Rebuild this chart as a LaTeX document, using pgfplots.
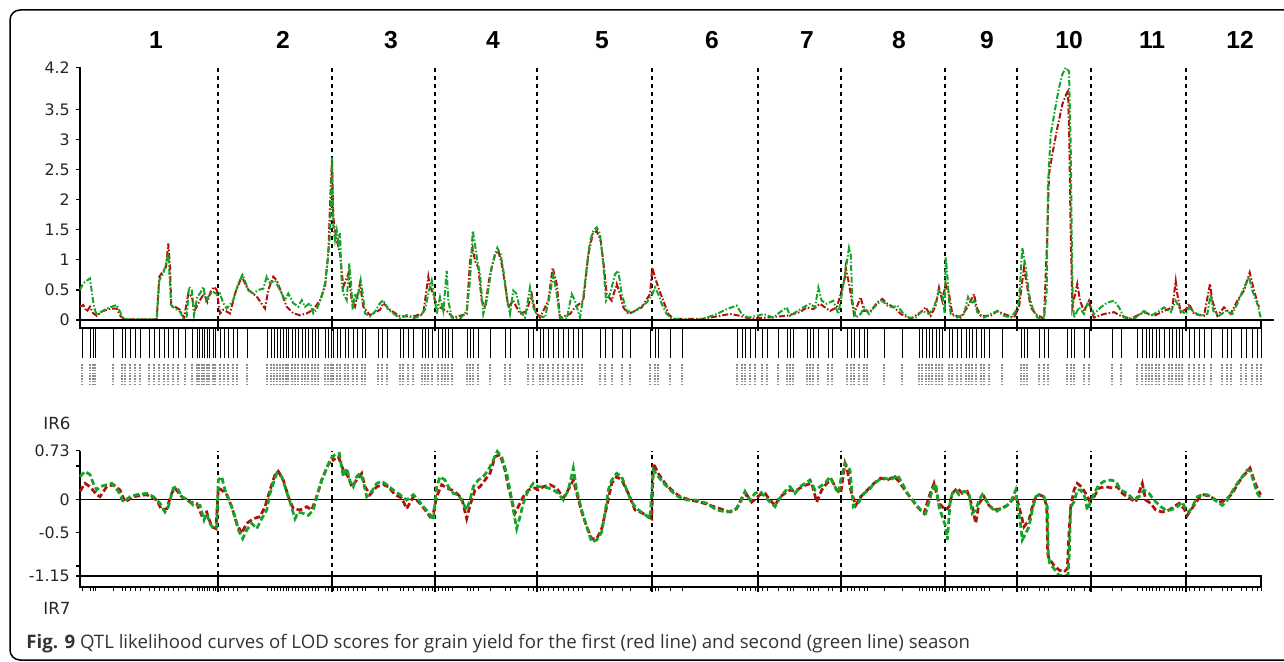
\documentclass[border=0pt]{standalone}
\usepackage{pgfplots}
\pgfplotsset{compat=1.18}
\usepackage{fontspec}
\setmainfont{Liberation Sans}
\newfontfamily\tickfont{DejaVu Sans}
\newfontfamily\capfont{Open Sans}
\definecolor{qred}{RGB}{175,20,10}
\definecolor{qgreen}{RGB}{20,165,40}
\pgfplotsset{
 base/.style={x=0.2mm, anchor=south west, xmin=80, xmax=1274, enlargelimits=false, clip=false},
 strip/.style={base, hide axis, ymin=0, ymax=1},
 panel/.style={base, axis x line=none, axis y line*=left, y axis line style={-, line width=0.25mm},
   xtick=\empty, tick align=outside, major tick length=0.8mm, tick style={black, line width=0.25mm},
   yticklabel style={font=\tickfont\fontsize{9}{10}\selectfont, text=black!85}},
 topline/.style={line width=0.4mm, dash pattern=on 1.2mm off 0.4mm on 0.3mm off 0.4mm},
 botline/.style={line width=0.55mm, dash pattern=on 1.2mm off 0.6mm},
 bound/.style={ycomb, black, line width=0.3mm, dash pattern=on 0.8mm off 0.8mm},
}
\begin{document}
\begin{tikzpicture}[x=0.2mm,y=-0.2mm]
\useasboundingbox (0,0) rectangle (1284,662);
\draw[line width=0.3mm, rounded corners=2mm] (10,10) rectangle (1300,660);

% ---------------- top panel: LOD ----------------
\begin{axis}[panel, y=12.04mm, at={(16mm,-64mm)}, ymin=0, ymax=4.2,
  ytick={0,0.5,1,1.5,2,2.5,3,3.5,4.2}, yticklabels={0,0.5,1,1.5,2,2.5,3,3.5,4.2}]
\addplot[bound] coordinates {(218,4.25)(332,4.25)(435,4.25)(537,4.25)(652,4.25)(758,4.25)(841,4.25)(945,4.25)(1017,4.25)(1091,4.25)(1186,4.25)};
\addplot[qred, topline] coordinates {
(80,0.22)(83.3,0.25)(86.7,0.14)(90,0.22)(93.3,0.11)(96.7,0.07)(101.7,0.14)(106.7,0.17)(111.7,0.19)(116.7,0.19)(120.7,0.06)(125,0.01)(156.7,0.01)(159.3,0.72)(162.7,0.80)(166,0.88)(168.3,1.27)(170,0.88)(171.3,0.22)(175,0.22)(180,0.17)(184,0.03)(188.3,0.44)(191.7,0.39)(195,0.17)(200,0.33)(204,0.44)(207.3,0.30)(210.7,0.47)(214,0.55)(216.7,0.50)
(220,0.11)(223.3,0.17)(230,0.11)(235,0.44)(241.7,0.72)(248.3,0.50)(256.7,0.39)(265,0.19)(268.3,0.50)(273.3,0.72)(276.7,0.66)(281.7,0.44)(286.7,0.22)(293.3,0.11)(300,0.08)(306.7,0.11)(313.3,0.17)(320,0.33)(325,0.55)(328.3,1.10)(330.7,2.21)(332,2.65)
(333.3,1.71)(335,1.49)(336.7,1.33)(340,1.10)(343.3,0.55)(348.3,0.77)(351.7,0.33)(355,0.22)(360,0.61)(363.3,0.22)(370,0.08)(380,0.17)(383.3,0.28)(390,0.17)(400,0.06)(413.3,0.06)(423.3,0.11)(428.3,0.72)(430,0.55)(433.3,0.44)
(435,0.32)(440,0.21)(446.7,0.15)(453.3,0.04)(466.7,0.10)(470,0.98)(472.7,1.20)(475,0.98)(478.3,0.87)(481.7,0.32)(485,0.21)(490,0.76)(495,1.09)(498.3,1.15)(501.7,0.93)(505,0.60)(508.3,0.21)(513.3,0.32)(520,0.10)(526.7,0.15)(531.7,0.43)(535,0.15)
(540,0.04)(548.3,0.32)(552.7,0.87)(556.7,0.60)(560,0.04)(570,0.10)(575,0.21)(583.3,0.32)(588.3,1.09)(592.7,1.43)(596.7,1.48)(600.7,1.31)(604,0.87)(606.7,0.43)(611.7,0.32)(616.7,0.60)(620,0.43)(623.3,0.21)(628.3,0.10)(635,0.15)(641.7,0.21)(650,0.43)(652.3,0.87)
(655,0.71)(658.3,0.54)(663.3,0.32)(668.3,0.10)(673.3,0.02)(703.3,0.02)(720,0.07)(730,0.10)(740,0.07)(750,0.02)
(766.7,0.04)(786.7,0.07)(800,0.13)(806.7,0.21)(813.3,0.18)(820,0.27)(830,0.15)(836.7,0.21)(840.7,0.43)(845,0.71)
(845.7,0.87)(849,0.60)(854,0.10)(860.7,0.38)(864,0.15)(870.7,0.15)(877.3,0.29)(882.3,0.35)(887.3,0.27)(894,0.21)(900.7,0.10)(910.7,0.02)(920.7,0.13)(925.7,0.21)(930.7,0.07)(935.7,0.24)(939,0.54)(942.3,0.32)
(945.7,0.60)(949,0.43)(952.3,0.10)(960.7,0.04)(967.3,0.21)(974,0.43)(976.7,0.21)(980.7,0.07)(990.7,0.07)(997.3,0.15)(1004,0.10)(1014,0.04)
(1019,0.21)(1024,0.87)(1026.7,0.60)(1030.7,0.21)(1035.7,0.10)(1044,0.02)(1047.3,1.43)(1049,2.42)(1052.3,2.75)(1057.3,3.19)(1062.3,3.58)(1066.7,3.77)(1068,3.80)(1069.3,2.97)(1070.7,1.43)(1072.3,0.21)(1077.3,0.60)(1080,0.32)(1084,0.15)(1089,0.32)(1091.3,0.15)
(1094,0.04)(1104,0.10)(1114,0.13)(1120.7,0.07)(1130.7,0.02)(1144,0.13)(1154,0.07)(1164,0.15)(1172.3,0.21)(1175.7,0.65)(1177.3,0.43)(1180.7,0.13)(1186,0.18)
(1189,0.27)(1194,0.10)(1204,0.07)(1210,0.60)(1212.3,0.32)(1217.3,0.07)(1224,0.21)(1230.7,0.10)(1237.3,0.32)(1244,0.49)(1249.7,0.79)(1254,0.49)(1259,0.21)};
\addplot[qgreen, topline] coordinates {
(80,0.50)(83.3,0.61)(87.3,0.66)(90,0.69)(92,0.44)(94,0.22)(96.7,0.08)(101.7,0.14)(106.7,0.19)(111.7,0.22)(116.7,0.25)(120,0.14)(122.7,0.03)(126.7,0.01)(156.7,0.01)(159.3,0.66)(163.3,0.77)(166,0.94)(168.3,1.10)(170,0.61)(171,0.25)(175,0.19)(180,0.14)(183.3,0.03)(186.7,0.06)(189,0.55)(191.7,0.50)(194,0.08)(197.3,0.39)(200,0.44)(203.3,0.55)(206,0.33)(209.3,0.41)(212.7,0.47)(216,0.44)(217.7,0.41)
(220,0.44)(223.3,0.28)(226.7,0.19)(233.3,0.33)(238.3,0.61)(242.7,0.75)(248.3,0.50)(253.3,0.44)(258.3,0.50)(263.3,0.52)(266.7,0.72)(270,0.61)(275,0.66)(278.3,0.55)(281.7,0.44)(285,0.33)(288.3,0.44)(293.3,0.28)(298.3,0.22)(301.7,0.33)(305,0.22)(310,0.28)(313.3,0.11)(316.7,0.17)(321.7,0.39)(325,0.61)(328.3,1.10)(330,1.44)(331,1.99)(332,2.70)
(333.3,1.55)(335,1.33)(336.7,1.49)(338.3,1.27)(340,1.44)(341.7,0.61)(343.3,0.44)(346.7,0.33)(349.3,0.94)(351,0.61)(352.7,0.17)(355,0.44)(357.3,0.33)(360.7,0.66)(362.7,0.44)(365,0.11)(370,0.06)(375,0.14)(380,0.28)(383.3,0.33)(388.3,0.17)(393.3,0.11)(400,0.03)(406.7,0.08)(413.3,0.03)(420,0.06)(425,0.17)(428.3,0.44)(431.7,0.66)(435,0.33)
(436.7,0.10)(440,0.38)(443.3,0.15)(446.7,0.82)(448.3,0.32)(451.7,0.04)(460,0.02)(466.7,0.15)(470,0.65)(472.7,1.48)(475,1.26)(477.3,0.98)(480,0.76)(483.3,0.10)(486.7,0.32)(491.7,0.87)(495,1.09)(497.3,1.20)(500.7,1.09)(504,0.76)(507.3,0.32)(510,0.10)(513.3,0.49)(516.7,0.43)(520,0.15)(525,0.04)(530,0.54)(533.3,0.21)(536.7,0.10)
(540,0.07)(545,0.04)(550,0.43)(553.3,0.76)(556.7,0.43)(560,0.04)(566.7,0.02)(571.7,0.43)(575,0.32)(580,0.04)(583.3,0.38)(586.7,0.87)(590,1.31)(593.3,1.48)(596.7,1.54)(600,1.43)(603.3,0.93)(606,0.32)(610,0.43)(615,0.76)(618.3,0.82)(621.7,0.43)(626.7,0.15)(633.3,0.13)(640,0.21)(646.7,0.29)(652.3,0.43)
(655,0.54)(658.3,0.43)(661.7,0.27)(666.7,0.10)(671.7,0.02)(696.7,0)(706.7,0.04)(716.7,0.10)(726.7,0.18)(736.7,0.24)(741.7,0.10)(748.3,0.04)(757.7,0.07)
(763.3,0.10)(773.3,0.04)(780,0.13)(786.7,0.21)(790,0.07)(803.3,0.21)(810,0.27)(815,0.21)(818.3,0.54)(821.7,0.32)(826.7,0.27)(833.3,0.32)(838.3,0.10)(840.7,0.32)(845,0.76)(849,1.20)(850.7,1.09)(852.3,0.32)
(855.7,0.04)(860.7,0.10)(864,0.21)(869,0.10)(874,0.21)(879,0.29)(882.3,0.32)(887.3,0.24)(892.3,0.21)(897.3,0.24)(902.3,0.13)(909,0.04)(915.7,0.04)(922.3,0.15)(929,0.10)(934,0.21)(939,0.49)(942.3,0.43)(944.7,0.10)
(945.7,1.04)(947.3,0.76)(949,0.32)(950.7,0.10)(957.3,0.04)(964,0.10)(968,0.38)(970.7,0.27)(974,0.32)(977.3,0.13)(984,0.04)(990.7,0.10)(997.3,0.15)(1004,0.07)(1010.7,0.04)(1015.7,0.15)
(1019,0.32)(1022.3,1.20)(1025.7,0.87)(1029,0.43)(1032.3,0.21)(1037.3,0.04)(1044,0.02)(1046.7,0.49)(1048,2.25)(1050.7,3.08)(1054.7,3.47)(1059,3.86)(1062.3,4.08)(1065.7,4.19)(1069,4.13)(1070.7,2.86)(1071.7,1.43)(1072.7,0.32)(1074,0.04)(1079,0.21)(1084,0.10)(1087.3,0.27)(1091.3,0.21)
(1094,0.10)(1100.7,0.21)(1107.3,0.29)(1114,0.32)(1119,0.21)(1124,0.04)(1134,0.02)(1144,0.15)(1150.7,0.07)(1157.3,0.13)(1164,0.21)(1170.7,0.13)(1175.7,0.32)(1180.7,0.15)(1186,0.10)
(1189,0.21)(1194,0.13)(1200.7,0.07)(1207.3,0.10)(1210.7,0.43)(1213.3,0.15)(1219,0.07)(1225.7,0.15)(1232.3,0.10)(1237.3,0.27)(1244,0.54)(1249,0.71)(1252.3,0.49)(1257.3,0.27)(1260.7,0.04)};
\draw[line width=0.25mm] (axis cs:80,0) -- (axis cs:1274,0);
\draw[line width=0.25mm] (axis cs:80,0) rectangle (axis cs:1261,-0.133);
\end{axis}

% boundary ticks in the top marker box
\begin{axis}[strip, y=2.2mm, at={(16mm,-66.2mm)}]
\addplot[ycomb, black, line width=0.5mm] coordinates {(218,1)(332,1)(435,1)(537,1)(652,1)(758,1)(841,1)(945,1)(1017,1)(1091,1)(1186,1)};
\end{axis}

% marker lines
\begin{axis}[strip, y=6mm, at={(16mm,-71.6mm)}]
\addplot[ycomb, black, line width=0.15mm] coordinates {
(82,1)(90,1)(93,1)(95,1)(113,1)(122,1)(125,1)(130,1)(135,1)(140,1)(149,1)(154,1)(159,1)(164,1)(168,1)(173,1)(178,1)(185,1)(192,1)(197,1)(199,1)(202,1)(204,1)(207,1)(209,1)(213,1)(215,1)(220,1)(224,1)(228,1)(233,1)(237,1)(247,1)(267,1)(271,1)(274,1)(277,1)(280,1)(283,1)(286,1)(288,1)(292,1)(295,1)(298,1)(302,1)(305,1)(308,1)(312,1)(315,1)(318,1)(325,1)(328,1)(331,1)(333,1)(337,1)(340,1)(345,1)(348,1)(353,1)(357,1)(362,1)(365,1)(378,1)(382,1)(387,1)(400,1)(403,1)(408,1)(413,1)(422,1)(425,1)(428,1)(432,1)(438,1)(442,1)(445,1)(448,1)(452,1)(467,1)(470,1)(473,1)(478,1)(490,1)(505,1)(510,1)(528,1)(533,1)(540,1)(543,1)(548,1)(553,1)(558,1)(563,1)(568,1)(573,1)(578,1)(582,1)(600,1)(605,1)(612,1)(622,1)(630,1)(650,1)(655,1)(658,1)(670,1)(682,1)(737,1)(742,1)(745,1)(750,1)(755,1)(762,1)(767,1)(778,1)(787,1)(790,1)(793,1)(807,1)(810,1)(813,1)(818,1)(828,1)(832,1)(847,1)(851,1)(854,1)(859,1)(864,1)(867,1)(884,1)(902,1)(919,1)(922,1)(926,1)(929,1)(932,1)(936,1)(939,1)(942,1)(949,1)(952,1)(957,1)(961,1)(966,1)(969,1)(972,1)(976,1)(981,1)(984,1)(989,1)(1002,1)(1021,1)(1024,1)(1027,1)(1039,1)(1044,1)(1048,1)(1067,1)(1071,1)(1074,1)(1084,1)(1089,1)(1112,1)(1121,1)(1137,1)(1142,1)(1146,1)(1149,1)(1152,1)(1156,1)(1159,1)(1164,1)(1169,1)(1172,1)(1176,1)(1179,1)(1182,1)(1189,1)(1194,1)(1199,1)(1204,1)(1211,1)(1222,1)(1227,1)(1231,1)(1241,1)(1246,1)(1252,1)(1257,1)(1261,1)};
\end{axis}

% marker names (tiny, unreadable grey text)
\begin{axis}[strip, y=4.4mm, at={(16mm,-77mm)}]
\addplot[ycomb, black!45, line width=0.25mm, dash pattern=on 0.3mm off 0.25mm] coordinates {
(82,1)(90,1)(93,1)(95,1)(113,1)(122,1)(125,1)(130,1)(135,1)(140,1)(149,1)(154,1)(159,1)(164,1)(168,1)(173,1)(178,1)(185,1)(192,1)(197,1)(199,1)(202,1)(204,1)(207,1)(209,1)(213,1)(215,1)(220,1)(224,1)(228,1)(233,1)(237,1)(247,1)(267,1)(271,1)(274,1)(277,1)(280,1)(283,1)(286,1)(288,1)(292,1)(295,1)(298,1)(302,1)(305,1)(308,1)(312,1)(315,1)(318,1)(325,1)(328,1)(331,1)(333,1)(337,1)(340,1)(345,1)(348,1)(353,1)(357,1)(362,1)(365,1)(378,1)(382,1)(387,1)(400,1)(403,1)(408,1)(413,1)(422,1)(425,1)(428,1)(432,1)(438,1)(442,1)(445,1)(448,1)(452,1)(467,1)(470,1)(473,1)(478,1)(490,1)(505,1)(510,1)(528,1)(533,1)(540,1)(543,1)(548,1)(553,1)(558,1)(563,1)(568,1)(573,1)(578,1)(582,1)(600,1)(605,1)(612,1)(622,1)(630,1)(650,1)(655,1)(658,1)(670,1)(682,1)(737,1)(742,1)(745,1)(750,1)(755,1)(762,1)(767,1)(778,1)(787,1)(790,1)(793,1)(807,1)(810,1)(813,1)(818,1)(828,1)(832,1)(847,1)(851,1)(854,1)(859,1)(864,1)(867,1)(884,1)(902,1)(919,1)(922,1)(926,1)(929,1)(932,1)(936,1)(939,1)(942,1)(949,1)(952,1)(957,1)(961,1)(966,1)(969,1)(972,1)(976,1)(981,1)(984,1)(989,1)(1002,1)(1021,1)(1024,1)(1027,1)(1039,1)(1044,1)(1048,1)(1067,1)(1071,1)(1074,1)(1084,1)(1089,1)(1112,1)(1121,1)(1137,1)(1142,1)(1146,1)(1149,1)(1152,1)(1156,1)(1159,1)(1164,1)(1169,1)(1172,1)(1176,1)(1179,1)(1182,1)(1189,1)(1194,1)(1199,1)(1204,1)(1211,1)(1222,1)(1227,1)(1231,1)(1241,1)(1246,1)(1252,1)(1257,1)(1261,1)};
\end{axis}

% ---------------- bottom panel: additive effect ----------------
\begin{axis}[panel, y=13.33mm, at={(16mm,-115.2mm)}, ymin=-1.15, ymax=0.73,
  ytick={-1.15,-1,-0.5,0,0.5,0.73}, yticklabels={-1.15,,-0.5,0,,0.73}]
\addplot[bound] coordinates {(218,0.73)(332,0.73)(435,0.73)(537,0.73)(652,0.73)(758,0.73)(841,0.73)(945,0.73)(1017,0.73)(1091,0.73)(1186,0.73)};
\addplot[bound] coordinates {(218,-1.15)(332,-1.15)(435,-1.15)(537,-1.15)(652,-1.15)(758,-1.15)(841,-1.15)(945,-1.15)(1017,-1.15)(1091,-1.15)(1186,-1.15)};
\draw[line width=0.25mm] (axis cs:80,0) -- (axis cs:1274,0);
\addplot[qred, botline] coordinates {
(80,0.12)(85,0.24)(90,0.19)(96.7,0.07)(100,0.04)(106.7,0.19)(113.3,0.22)(120,0.14)(125,-0.04)(133.3,0.04)(146.7,0.07)(156.7,-0.01)(161.7,-0.16)(166.7,-0.14)(171.7,0.09)(175,0.17)(181.7,0.04)(190,-0.04)(196.7,-0.06)(201.7,-0.24)(206.7,-0.19)(211.7,-0.41)(216,-0.44)
(218.3,0.17)(221.7,0.14)(226.7,0.07)(231.7,-0.11)(236.7,-0.36)(241.7,-0.51)(246.7,-0.36)(253.3,-0.29)(260,-0.26)(265,-0.11)(270,0.14)(275,0.37)(278.3,0.42)(283.3,0.29)(288.3,0.04)(293.3,-0.14)(300,-0.16)(306.7,-0.11)(311.7,-0.16)(316.7,0.04)(321.7,0.29)(328.3,0.52)(332.3,0.62)
(333.3,0.59)(338.3,0.64)(343.3,0.44)(348.3,0.34)(351.7,0.19)(356.7,0.29)(361.7,0.39)(365,0.19)(370,0.07)(376.7,0.19)(383.3,0.22)(388.3,0.19)(395,0.07)(401.7,0.02)(406.7,-0.14)(413.3,0.04)(420,-0.06)(426.7,-0.19)(430,-0.26)(433.3,-0.21)
(436.7,0.04)(441.7,0.22)(446.7,0.17)(451.7,0.14)(456.7,0.09)(461.7,0.02)(466.7,-0.29)(470,-0.09)(475,0.14)(480,0.19)(485,0.29)(490,0.39)(495,0.64)(500,0.67)(505,0.44)(508.3,0.19)(511.7,-0.01)(515,-0.21)(518.3,-0.11)(523.3,0.04)(528.3,0.14)(535,0.17)
(538.3,0.14)(543.3,0.19)(550,0.22)(556.7,0.17)(563.3,0.02)(570,0.19)(573.3,0.29)(576.7,0.09)(581.7,-0.19)(586.7,-0.41)(591.7,-0.59)(596.7,-0.59)(601.7,-0.44)(606.7,-0.11)(611.7,0.24)(616.7,0.34)(621.7,0.29)(628.3,0.09)(635,-0.16)(640,-0.19)(646.7,-0.24)(651.7,-0.29)
(653.3,0.54)(658.3,0.39)(665,0.24)(671.7,0.14)(680,0.04)(690,-0.01)(700,-0.04)(710,-0.09)(720,-0.14)(730,-0.19)(736.7,-0.14)(741.7,0.02)(746.7,0.07)(751.7,-0.04)(756.7,0.02)
(760,0.07)(765,0.09)(770,-0.01)(775,-0.09)(780,0.04)(785,0.09)(790,0.14)(795,0.12)(800,0.17)(806.7,0.22)(811.7,0.24)(816.7,-0.04)(821.7,0.14)(826.7,0.24)(831.7,0.29)(836.7,0.14)(840.7,0.09)(845,0.54)
(847.3,0.44)(850.7,0.14)(855.7,-0.09)(860.7,0.04)(867.3,0.14)(874,0.24)(880.7,0.32)(887.3,0.29)(894,0.34)(899,0.27)(905.7,0.12)(912.3,-0.01)(919,-0.14)(924,-0.21)(929,0.04)(934,0.24)(939,-0.06)(942.3,-0.11)
(945.7,-0.16)(949,-0.11)(952.3,0.09)(957.3,0.17)(962.3,0.09)(967.3,0.12)(972.3,-0.11)(975.7,-0.36)(979,-0.06)(984,0.04)(989,-0.09)(994,-0.16)(1000.7,-0.14)(1007.3,-0.09)(1014,0.02)
(1017.3,-0.01)(1020.7,-0.21)(1024,-0.41)(1029,-0.31)(1034,-0.01)(1039,0.07)(1044,0.04)(1046.7,-0.11)(1047.7,-0.81)(1049,-0.89)(1054,-0.99)(1059,-1.06)(1064,-1.09)(1067.3,-1.04)(1069,-0.51)(1070.7,-0.11)(1074,0.14)(1077.3,0.24)(1081.3,0.19)(1085.7,0.09)(1089,-0.01)
(1094,0.04)(1099,0.17)(1105.7,0.19)(1112.3,0.17)(1117.3,0.19)(1122.3,0.09)(1129,0.02)(1135.7,-0.04)(1142.3,0.24)(1145.7,-0.01)(1150.7,-0.06)(1155.7,-0.16)(1162.3,-0.19)(1169,-0.16)(1174,-0.11)(1179,-0.06)(1184,-0.14)(1187.3,-0.24)
(1194,-0.09)(1199,0.02)(1204,0.07)(1210.7,0.04)(1215.7,-0.01)(1220.7,-0.04)(1225.7,-0.01)(1232.3,0.09)(1237.3,0.22)(1242.3,0.34)(1245.7,0.39)(1250,0.47)(1254,0.29)(1258,0.14)(1260.7,0.07)};
\addplot[qgreen, botline] coordinates {
(80,0.34)(85,0.42)(90,0.37)(93.3,0.24)(96.7,0.14)(100,0.19)(106.7,0.22)(111.7,0.24)(118.3,0.12)(123.3,-0.04)(130,0.04)(136.7,0.07)(146.7,0.09)(153.3,0.04)(160,-0.06)(165,-0.19)(168.3,-0.11)(173.3,0.17)(176.7,0.19)(181.7,0.04)(188.3,-0.01)(193.3,-0.09)(200,-0.09)(204,-0.31)(206.7,-0.21)(210,-0.36)(213.3,-0.44)(216.7,-0.41)
(218.3,0.29)(221.7,0.34)(225,0.14)(230,-0.04)(235,-0.26)(238.3,-0.46)(242.7,-0.59)(246.7,-0.46)(251.7,-0.36)(256.7,-0.44)(261.7,-0.29)(266.7,-0.16)(270,0.09)(273.3,0.24)(276.7,0.39)(281.7,0.34)(285,0.19)(290,-0.04)(295,-0.29)(298.3,-0.19)(303.3,-0.21)(308.3,-0.24)(313.3,-0.16)(316.7,0.04)(321.7,0.29)(326.7,0.47)(330,0.59)(332.3,0.64)
(335,0.67)(339.3,0.69)(343.3,0.34)(346.7,0.47)(350,0.27)(353.3,0.19)(356.7,0.34)(360,0.39)(363.3,0.27)(366.7,0.04)(371.7,0.12)(376.7,0.24)(381.7,0.27)(386.7,0.22)(393.3,0.14)(400,0.07)(406.7,-0.01)(413.3,0.07)(418.3,-0.01)(423.3,-0.11)(428.3,-0.19)(433.3,-0.31)
(436.7,0.19)(440,0.34)(445,0.29)(448.3,0.19)(453.3,0.09)(458.3,0.07)(463.3,-0.06)(466.7,-0.16)(470,-0.01)(473.3,0.19)(478.3,0.29)(483.3,0.34)(488.3,0.44)(493.3,0.59)(497.3,0.72)(501.7,0.64)(506.7,0.39)(510,0.14)(513.3,-0.16)(516.7,-0.44)(520,-0.26)(523.3,-0.06)(528.3,0.14)(533.3,0.24)
(538.3,0.19)(543.3,0.19)(548.3,0.17)(553.3,0.14)(558.3,0.09)(563.3,-0.01)(568.3,0.14)(573.3,0.47)(576.7,0.14)(581.7,-0.16)(586.7,-0.41)(591.7,-0.64)(596.7,-0.61)(601.7,-0.49)(605,-0.21)(608.3,0.14)(611.7,0.29)(616.7,0.39)(621.7,0.34)(626.7,0.14)(631.7,-0.04)(636.7,-0.14)(643.3,-0.21)(650,-0.29)
(653.3,0.44)(658.3,0.34)(665,0.22)(671.7,0.12)(678.3,0.04)(686.7,-0.01)(696.7,-0.01)(706.7,-0.06)(716.7,-0.16)(726.7,-0.19)(735,-0.16)(740,-0.06)(745,0.12)(750,-0.01)(755,0.09)
(760,0.12)(765,0.04)(770,-0.04)(775,-0.11)(780,0.02)(785,0.12)(790,0.19)(795,0.09)(800,0.19)(805,0.24)(810,0.29)(815,0.14)(820,0.19)(825,0.24)(830,0.34)(835,0.19)(838.3,0.09)(840.7,0.29)(845,0.54)(850,0.44)(853.3,-0.11)
(859,-0.04)(864,0.09)(869,0.14)(874,0.24)(879,0.29)(884,0.32)(890.7,0.29)(897.3,0.37)(902.3,0.24)(907.3,0.09)(914,-0.04)(920.7,-0.16)(925.7,-0.21)(929,-0.04)(932.3,0.14)(935.7,0.24)(939,-0.11)(942.3,-0.26)
(945.7,-0.41)(947.3,-0.61)(950,-0.06)(952.3,0.09)(955.7,0.14)(959,0.07)(964,0.12)(969,0.09)(972.3,-0.21)(975.7,-0.16)(979,-0.01)(982.3,0.07)(985.7,-0.01)(990.7,-0.11)(995.7,-0.19)(1000.7,-0.14)(1005.7,-0.11)(1010.7,-0.04)(1015.7,0.14)
(1017.3,-0.06)(1020,-0.31)(1022.3,-0.61)(1025.7,-0.51)(1029,-0.41)(1032.3,-0.16)(1035.7,0.04)(1039,0.07)(1044,0.04)(1047.3,-0.11)(1048.3,-0.81)(1049.7,-0.96)(1054,-1.04)(1059,-1.14)(1064,-1.15)(1068,-1.14)(1069.3,-0.81)(1070.7,-0.11)(1074,-0.04)(1077.3,0.14)(1080.7,0.14)(1084.7,0.04)(1087.3,-0.16)(1091.3,-0.01)
(1094,0.09)(1099,0.22)(1104,0.27)(1110.7,0.29)(1115.7,0.27)(1120.7,0.14)(1127.3,0.09)(1134,-0.01)(1139,0.04)(1144,0.14)(1149,0.09)(1154,-0.01)(1160.7,-0.11)(1165.7,-0.16)(1170.7,-0.16)(1177.3,-0.11)(1182.3,-0.04)(1186,-0.16)
(1189,-0.19)(1192.3,-0.11)(1197.3,0.04)(1202.3,0.07)(1207.3,0.07)(1212.3,0.02)(1217.3,-0.04)(1222.3,-0.09)(1227.3,-0.01)(1232.3,0.12)(1237.3,0.24)(1242.3,0.34)(1247.3,0.44)(1250.7,0.42)(1254,0.24)(1257.3,0.09)(1260.7,0.02)};
\draw[line width=0.25mm] (axis cs:80,-1.15) rectangle (axis cs:1261,-1.315);
\end{axis}

% boundary ticks in the bottom marker box
\begin{axis}[strip, y=3.2mm, at={(16mm,-118.4mm)}]
\addplot[ycomb, black, line width=0.5mm] coordinates {(218,1)(332,1)(435,1)(537,1)(652,1)(758,1)(841,1)(945,1)(1017,1)(1091,1)(1186,1)};
\end{axis}
% small marker ticks under the bottom box
\begin{axis}[strip, y=0.8mm, at={(16mm,-118.2mm)}]
\addplot[ycomb, black, line width=0.2mm] coordinates {
(82,1)(90,1)(93,1)(95,1)(113,1)(122,1)(125,1)(130,1)(135,1)(140,1)(149,1)(154,1)(159,1)(164,1)(168,1)(173,1)(178,1)(185,1)(192,1)(197,1)(199,1)(202,1)(204,1)(207,1)(209,1)(213,1)(215,1)(220,1)(224,1)(228,1)(233,1)(237,1)(247,1)(267,1)(271,1)(274,1)(277,1)(280,1)(283,1)(286,1)(288,1)(292,1)(295,1)(298,1)(302,1)(305,1)(308,1)(312,1)(315,1)(318,1)(325,1)(328,1)(331,1)(333,1)(337,1)(340,1)(345,1)(348,1)(353,1)(357,1)(362,1)(365,1)(378,1)(382,1)(387,1)(400,1)(403,1)(408,1)(413,1)(422,1)(425,1)(428,1)(432,1)(438,1)(442,1)(445,1)(448,1)(452,1)(467,1)(470,1)(473,1)(478,1)(490,1)(505,1)(510,1)(528,1)(533,1)(540,1)(543,1)(548,1)(553,1)(558,1)(563,1)(568,1)(573,1)(578,1)(582,1)(600,1)(605,1)(612,1)(622,1)(630,1)(650,1)(655,1)(658,1)(670,1)(682,1)(737,1)(742,1)(745,1)(750,1)(755,1)(762,1)(767,1)(778,1)(787,1)(790,1)(793,1)(807,1)(810,1)(813,1)(818,1)(828,1)(832,1)(847,1)(851,1)(854,1)(859,1)(864,1)(867,1)(884,1)(902,1)(919,1)(922,1)(926,1)(929,1)(932,1)(936,1)(939,1)(942,1)(949,1)(952,1)(957,1)(961,1)(966,1)(969,1)(972,1)(976,1)(981,1)(984,1)(989,1)(1002,1)(1021,1)(1024,1)(1027,1)(1039,1)(1044,1)(1048,1)(1067,1)(1071,1)(1074,1)(1084,1)(1089,1)(1112,1)(1121,1)(1137,1)(1142,1)(1146,1)(1149,1)(1152,1)(1156,1)(1159,1)(1164,1)(1169,1)(1172,1)(1176,1)(1179,1)(1182,1)(1189,1)(1194,1)(1199,1)(1204,1)(1211,1)(1222,1)(1227,1)(1231,1)(1241,1)(1246,1)(1252,1)(1257,1)(1261,1)};
\end{axis}

% chromosome numbers
\begin{scope}[font=\bfseries\fontsize{14}{16}\selectfont]
\node at (156,40) {1};
\node at (283,40) {2};
\node at (391,40) {3};
\node at (493,40) {4};
\node at (602,40) {5};
\node at (712,40) {6};
\node at (807,40) {7};
\node at (899,40) {8};
\node at (987,40) {9};
\node at (1069,40) {10};
\node at (1152,40) {11};
\node at (1240,40) {12};
\end{scope}
\node[font=\tickfont\fontsize{9.5}{11}\selectfont, text=black!85] at (57,423) {IR6};
\node[font=\tickfont\fontsize{9.5}{11}\selectfont, text=black!85] at (57,608) {IR7};
\node[anchor=base west, font=\capfont\fontsize{10.6}{12}\selectfont, text=black!80, inner sep=0pt] at (26,648) {{\bfseries Fig. 9} QTL likelihood curves of LOD scores for grain yield for the first (red line) and second (green line) season};
\end{tikzpicture}
\end{document}
